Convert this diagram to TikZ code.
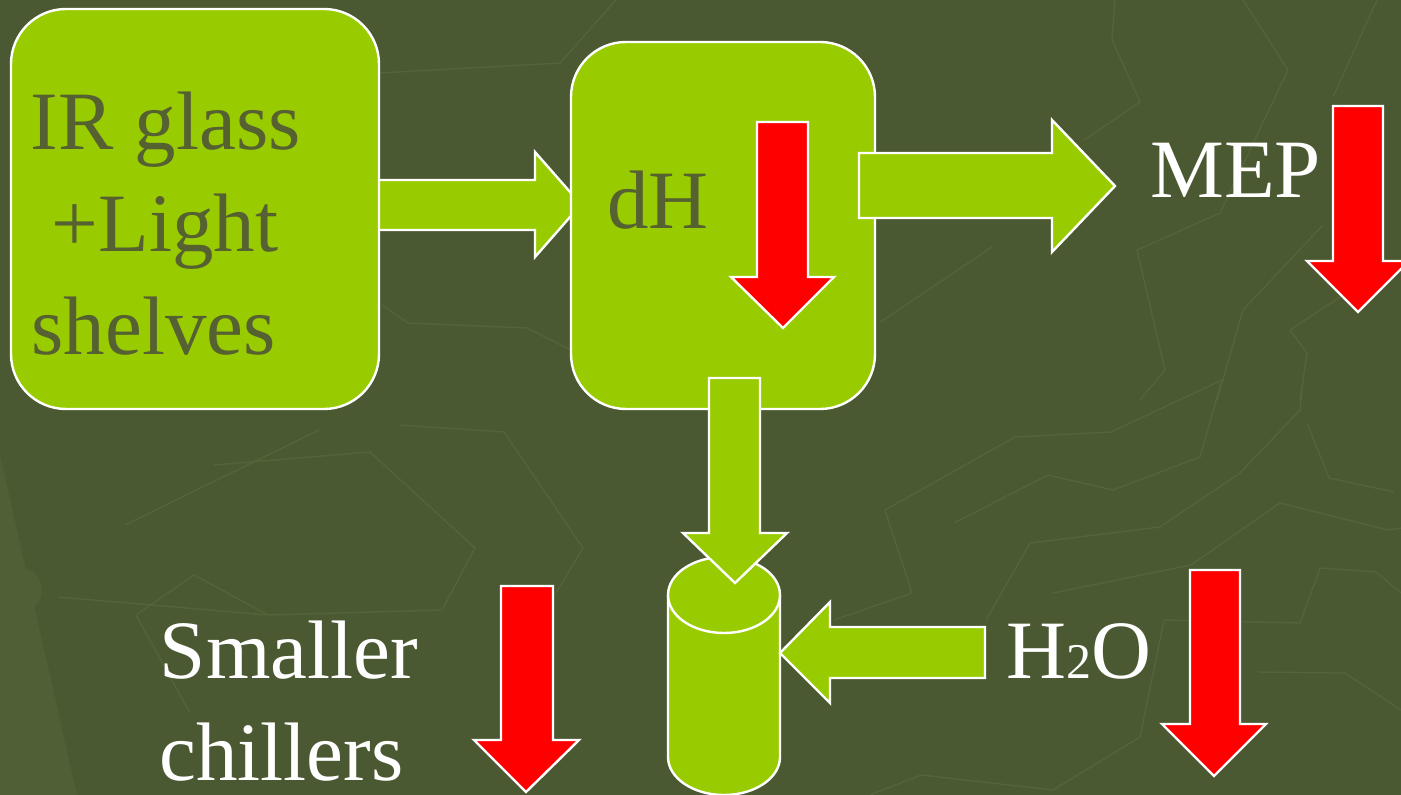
\documentclass[tikz,border=0pt]{standalone}
\usepackage{fontspec}
\setmainfont{Liberation Serif}
\definecolor{slide}{RGB}{75,89,50}
\definecolor{mapline}{RGB}{84,99,57}
\definecolor{needle}{RGB}{80,95,54}
\definecolor{lime}{RGB}{153,204,0}
\definecolor{olive}{RGB}{86,97,49}
\tikzstyle{every node}=[inner sep=0pt, anchor=base west, font=\fontsize{41.5}{51}\selectfont]
\tikzstyle{limebox}=[draw=white, fill=lime, line width=1.2pt, rounded corners=27.5pt, anchor=center]
\tikzstyle{limearrow}=[draw=white, fill=lime, line width=1.2pt]
\tikzstyle{redarrow}=[draw=white, fill=red, line width=1.2pt]
\tikzstyle{map}=[mapline, line width=0.7pt]

\begin{document}
\begin{tikzpicture}[x=0.5pt, y=-0.5pt]
    \useasboundingbox (0,0) rectangle (1401,795);
    \clip (0,0) rectangle (1401,795);
    \fill[slide] (0,0) rectangle (1401,795);
% Map texture
    \fill[needle] (0,455) -- (77,795) -- (0,795) -- cycle;
    \fill[needle] (20,590) circle(22);
    \draw[map] (379,73) -- (560,63) -- (616,0);
    \draw[map] (382,305) -- (408,323) -- (527,328) -- (571,350);
    \draw[map] (400,425) -- (504,432) -- (583,548) -- (556,593);
    \draw[map] (214,465) -- (370,452) -- (475,548) -- (442,610) -- (268,615) -- (194,575) -- (136,615) -- (190,713);
    \draw[map] (58,597) -- (268,615);
    \draw[map] (125,525) -- (319,430);
    \draw[map] (885,510) -- (1015,437) -- (1111,432) -- (1222,380);
    \draw[map] (954,523) -- (1048,475) -- (1113,490) -- (1200,457) -- (1222,380);
    \draw[map] (986,620) -- (1030,543) -- (1160,527) -- (1240,473) -- (1300,410) -- (1303,380);
    \draw[map] (885,510) -- (912,593) -- (834,620);
    \draw[map] (1164,620) -- (1300,623) -- (1320,568) -- (1376,572) -- (1401,593);
    \draw[map] (1053,593) -- (1191,565) -- (1280,503) -- (1388,530) -- (1401,528);
    \draw[map] (1164,620) -- (1140,737) -- (1053,790);
    \draw[map] (1258,672) -- (1345,673) -- (1401,710);
    \draw[map] (1307,423) -- (1329,478) -- (1394,492);
    \draw[map] (870,795) -- (921,775) -- (1053,790);
    \draw[map] (1115,0) -- (1112,40) -- (1140,102) -- (1084,140);
    \draw[map] (1243,0) -- (1288,70) -- (1220,213) -- (1137,250) -- (1165,370) -- (1140,400);
    \draw[map] (1377,0) -- (1333,97);
    \draw[map] (1323,225) -- (1243,310) -- (1217,400);
    \draw[map] (1340,297) -- (1290,330) -- (1307,353) -- (1300,400);
    \draw[map] (992,247) -- (879,323);
% Boxes and block arrows
    \draw[limearrow] (370,180) -- (535,180) -- (535,152) -- (581,204.5) -- (535,257) -- (535,230) -- (370,230) -- cycle;
    \node[limebox, minimum width=184pt, minimum height=200pt] (glass) at (195,209) {};
    \node[limebox, minimum width=152pt, minimum height=183.5pt] (dh) at (723,225.5) {};
    \draw[limearrow] (859,153) -- (1052,153) -- (1052,120) -- (1115,186) -- (1052,252) -- (1052,218) -- (859,218) -- cycle;
% Tank
    \draw[limearrow] (668,595) -- (668,757) arc[start angle=180, end angle=0, x radius=56, y radius=38]
        -- (780,595) arc[start angle=0, end angle=-180, x radius=56, y radius=38];
    \draw[white, line width=1.2pt] (668,595) arc[start angle=180, end angle=0, x radius=56, y radius=38];
    \draw[limearrow] (709,378) -- (760,378) -- (760,533) -- (787,533) -- (735,583) -- (683,533) -- (709,533) -- cycle;
    \draw[limearrow] (985,627) -- (830,627) -- (830,602) -- (780,653) -- (830,703) -- (830,678) -- (985,678) -- cycle;
% Labels
    \node[olive] (glassA) at (30.5,150) {IR glass};
    \node[olive] (glassB) at (51.5,252) {+Light};
    \node[olive] (glassC) at (31,355) {shelves};
    \node[olive] (dhtext) at (607,229) {dH};
    \node[white] (mep) at (1150,198) {MEP};
    \node[white] (water) at (1006.5,678) {H{\fontsize{25}{25}\selectfont 2}O};
    \node[white] (smaller) at (159.5,678) {Smaller};
    \node[white] (chillers) at (159,780) {chillers};
% Reductions
    \draw[redarrow] (757,122) -- (808,122) -- (808,277) -- (834,277) -- (783,328) -- (731,277) -- (757,277) -- cycle;
    \draw[redarrow] (1333,106) -- (1383,106) -- (1383,261) -- (1409,261) -- (1358,312) -- (1307,261) -- (1333,261) -- cycle;
    \draw[redarrow] (1190,570) -- (1240,570) -- (1240,724) -- (1266,724) -- (1214,776) -- (1162,724) -- (1190,724) -- cycle;
    \draw[redarrow] (501,586) -- (553,586) -- (553,740) -- (579,740) -- (526,792) -- (474,740) -- (501,740) -- cycle;
\end{tikzpicture}
\end{document}
